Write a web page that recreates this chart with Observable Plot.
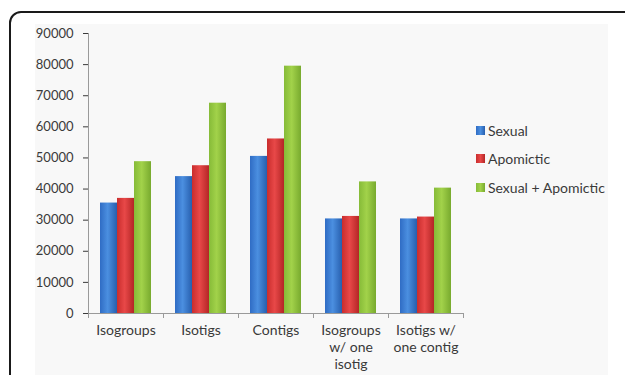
<!DOCTYPE html>
<html>
<head>
<meta charset="utf-8">
<script src="https://cdn.jsdelivr.net/npm/d3@7"></script>
<script src="https://cdn.jsdelivr.net/npm/@observablehq/plot@0.6"></script>
<style>
  html, body { margin: 0; padding: 0; background: #fff; }
  #wrap { position: relative; width: 625px; height: 375px; overflow: hidden; font-family: Lato, "Open Sans", sans-serif; }
  #border { position: absolute; left: 9px; top: 11px; width: 640px; height: 420px; border: 2px solid #1a1a1a; border-radius: 12px; box-sizing: border-box; }
  #area { position: absolute; left: 35px; top: 24px; width: 573px; height: 400px; background: #f8f8f8; }
  #chart { position: absolute; left: 0; top: 0; }
  #legend { position: absolute; left: 476px; top: 116px; font-size: 14px; color: #3a3a3a; }
  #legend .row { height: 28.5px; display: flex; align-items: center; }
  #legend .sw { width: 9px; height: 9px; margin-right: 3px; }
  svg [aria-label="y-axis tick"] { stroke: #9a9a9a; }
  svg [aria-label="y-axis tick label"] { font-size: 13px; }
</style>
</head>
<body>
<div id="wrap">
  <div id="border"></div>
  <div id="area"></div>
  <div id="chart"></div>
  <div id="legend"></div>
</div>
<svg width="0" height="0" style="position:absolute">
  <defs>
    <linearGradient id="gBlue" x1="0" x2="1" y1="0" y2="0">
      <stop offset="0" stop-color="#2f6cc4"/>
      <stop offset="0.45" stop-color="#4b8fe0"/>
      <stop offset="1" stop-color="#275fae"/>
    </linearGradient>
    <linearGradient id="gRed" x1="0" x2="1" y1="0" y2="0">
      <stop offset="0" stop-color="#c92d2d"/>
      <stop offset="0.45" stop-color="#e84848"/>
      <stop offset="1" stop-color="#b42626"/>
    </linearGradient>
    <linearGradient id="gGreen" x1="0" x2="1" y1="0" y2="0">
      <stop offset="0" stop-color="#86bb38"/>
      <stop offset="0.45" stop-color="#a2d24a"/>
      <stop offset="1" stop-color="#78aa2e"/>
    </linearGradient>
  </defs>
</svg>
<script>
const categories = ["Isogroups", "Isotigs", "Contigs", "Isogroups\nw/ one\nisotig", "Isotigs w/\none contig"];
const seriesNames = ["Sexual", "Apomictic", "Sexual + Apomictic"];
const sexual = [35500, 44000, 50500, 30400, 30400];
const apomictic = [37000, 47500, 56100, 31200, 31000];
const combined = [48800, 67600, 79500, 42300, 40300];
const yTicks = [0, 10000, 20000, 30000, 40000, 50000, 60000, 70000, 80000, 90000];

const fills = ["url(#gBlue)", "url(#gRed)", "url(#gGreen)"];
const swatches = ["linear-gradient(90deg,#2f6cc4,#4b8fe0,#275fae)", "linear-gradient(90deg,#c92d2d,#e84848,#b42626)", "linear-gradient(90deg,#86bb38,#a2d24a,#78aa2e)"];

const valuesBySeries = [sexual, apomictic, combined];
const data = [];
categories.forEach((c, i) => {
  seriesNames.forEach((s, j) => data.push({category: c, series: s, value: valuesBySeries[j][i]}));
});

const chart = Plot.plot({
  width: 625,
  height: 375,
  marginLeft: 88,
  marginRight: 162,
  marginTop: 33,
  marginBottom: 62,
  style: {background: "transparent", fontFamily: "Lato, 'Open Sans', sans-serif", fontSize: "14px", color: "#3a3a3a"},
  fx: {domain: categories, padding: 0, label: null},
  x: {domain: seriesNames, paddingInner: 0, paddingOuter: 0.7, axis: null},
  y: {domain: [0, 90000], ticks: yTicks, tickFormat: "d", tickSize: 5, tickPadding: 10, label: null},
  color: {domain: seriesNames, range: fills},
  marks: [
    Plot.axisFx({anchor: "bottom", tickSize: 0, tickPadding: 10, lineHeight: 1.2, label: null}),
    Plot.barY(data, {fx: "category", x: "series", y: "value", fill: "series"})
  ]
});
document.getElementById("chart").appendChild(chart);

// axis lines and category boundary ticks from the plot's scales
const fxS = chart.scale("fx");
const yS = chart.scale("y");
const [x0, x1] = fxS.range;
const yBase = yS.apply(0);
const yTop = yS.apply(yS.domain[1]);
const n = fxS.domain.length;
const svg = d3.select(chart);
const g = svg.append("g").attr("stroke", "#9a9a9a").attr("stroke-width", 1);
g.append("line").attr("x1", x0 + 0.5).attr("x2", x0 + 0.5).attr("y1", yTop).attr("y2", yBase);
g.append("line").attr("x1", x0).attr("x2", x1).attr("y1", yBase + 0.5).attr("y2", yBase + 0.5);
for (let i = 0; i <= n; i++) {
  const xx = Math.round(x0 + i * (x1 - x0) / n) + 0.5;
  g.append("line").attr("x1", xx).attr("x2", xx).attr("y1", yBase).attr("y2", yBase + 5);
}

// legend
const legend = d3.select("#legend");
seriesNames.forEach((s, j) => {
  const row = legend.append("div").attr("class", "row");
  row.append("div").attr("class", "sw").style("background", swatches[j]);
  row.append("span").text(s);
});
</script>
</body>
</html>
